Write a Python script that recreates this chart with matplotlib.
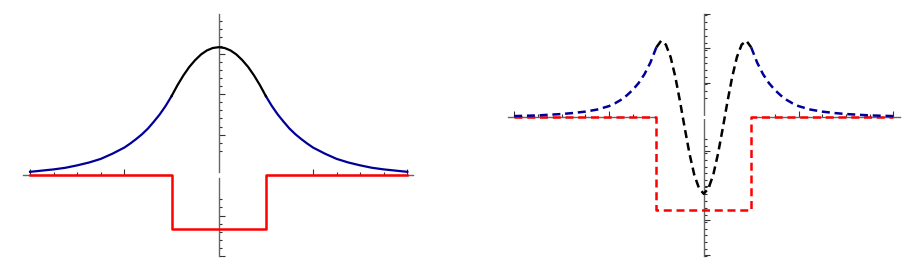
import numpy as np
import matplotlib
matplotlib.use("Agg")
import matplotlib.pyplot as plt
from matplotlib.ticker import FixedLocator

# ---------------- data ----------------
# Left panel: ground state in a finite square well
well_edge = 1.0
left_tail_x = [-4.0, -3.75, -3.5, -3.25, -3.0, -2.75, -2.5, -2.25, -2.0, -1.875, -1.75,
               -1.625, -1.5, -1.375, -1.25, -1.125, -1.0]
left_tail_y = [0.08, 0.11, 0.14, 0.18, 0.24, 0.31, 0.40, 0.53, 0.68, 0.78, 0.89,
               1.01, 1.15, 1.32, 1.50, 1.71, 1.95]
right_tail_x = [1.0, 1.125, 1.25, 1.375, 1.5, 1.625, 1.75, 1.875, 2.0, 2.25, 2.5,
                2.75, 3.0, 3.25, 3.5, 3.75, 4.0]
right_tail_y = [1.95, 1.71, 1.50, 1.32, 1.15, 1.01, 0.89, 0.78, 0.68, 0.53, 0.40,
                0.31, 0.24, 0.18, 0.14, 0.11, 0.08]
inside_x = [-1.0, -0.875, -0.75, -0.625, -0.5, -0.375, -0.25, -0.125, 0.0,
            0.125, 0.25, 0.375, 0.5, 0.625, 0.75, 0.875, 1.0]
inside_y = [1.95, 2.22, 2.46, 2.67, 2.84, 2.98, 3.08, 3.14, 3.16,
            3.14, 3.08, 2.98, 2.84, 2.67, 2.46, 2.22, 1.95]
pot_x = [-4.0, -1.0, -1.0, 1.0, 1.0, 4.0]
pot_left = [0.0, 0.0, -1.33, -1.33, 0.0, 0.0]

# Right panel: third (even) state
r_left_tail_x = [-4.0, -3.75, -3.5, -3.25, -3.0, -2.75, -2.5, -2.25, -2.0, -1.875, -1.75,
                 -1.625, -1.5, -1.375, -1.25, -1.125, -1.0]
r_left_tail_y = [0.03, 0.04, 0.05, 0.07, 0.09, 0.12, 0.16, 0.22, 0.32, 0.40, 0.50,
                 0.63, 0.79, 0.99, 1.25, 1.59, 2.03]
r_right_tail_x = [1.0, 1.125, 1.25, 1.375, 1.5, 1.625, 1.75, 1.875, 2.0, 2.25, 2.5,
                  2.75, 3.0, 3.25, 3.5, 3.75, 4.0]
r_right_tail_y = [2.03, 1.59, 1.25, 0.99, 0.79, 0.63, 0.50, 0.40, 0.32, 0.22, 0.16,
                  0.12, 0.09, 0.07, 0.05, 0.04, 0.03]
r_inside_x = [-1.0, -0.9, -0.8, -0.7, -0.6, -0.5, -0.4, -0.3, -0.2, -0.1, 0.0,
              0.1, 0.2, 0.3, 0.4, 0.5, 0.6, 0.7, 0.8, 0.9, 1.0]
r_inside_y = [2.03, 2.22, 2.11, 1.75, 1.17, 0.45, -0.33, -1.07, -1.68, -2.07, -2.23,
              -2.07, -1.68, -1.07, -0.33, 0.45, 1.17, 1.75, 2.11, 2.22, 2.03]
pot_right = [0.0, 0.0, -2.69, -2.69, 0.0, 0.0]

# ---------------- styling ----------------
BLUE = "#000099"
RED = "#ff0000"
AXC = "#666666"

fig = plt.figure(figsize=(9.22, 2.65), dpi=100)
axL = fig.add_axes([23 / 922, 9 / 265, 390 / 922, 242 / 265])
axR = fig.add_axes([508 / 922, 9 / 265, 392 / 922, 242 / 265])


def style(ax, xlim, ylim, xmaj, xmin, ymaj, ymin):
    ax.set_xlim(xlim)
    ax.set_ylim(ylim)
    ax.patch.set_alpha(0)
    for s in ["top", "right"]:
        ax.spines[s].set_visible(False)
    for s in ["left", "bottom"]:
        ax.spines[s].set_position(("data", 0))
        ax.spines[s].set_color(AXC)
        ax.spines[s].set_linewidth(1.0)
    ax.xaxis.set_major_locator(FixedLocator(xmaj))
    ax.xaxis.set_minor_locator(FixedLocator(xmin))
    ax.yaxis.set_major_locator(FixedLocator(ymaj))
    ax.yaxis.set_minor_locator(FixedLocator(ymin))
    ax.tick_params(which="both", direction="in", labelbottom=False,
                   labelleft=False, color="#333333", width=0.8)
    ax.tick_params(which="major", length=4)
    ax.tick_params(which="minor", length=2.5)


def yminors(lo, hi):
    vals = np.round(np.arange(lo, hi + 1e-9, 0.2), 2)
    return [v for v in vals if abs(v) >= 0.55 and abs(v - round(v)) > 1e-6]


style(axL, (-4.15, 4.12), (-2.0, 3.98),
      [-4, -2, 2, 4], [-3.5, -3, -2.5, 2.5, 3, 3.5],
      [-2, -1, 1, 2, 3], yminors(-2.0, 3.98))
style(axR, (-4.13, 4.14), (-4.04, 3.0),
      [-4, -2, 2, 4], [-3.5, -3, -2.5, -1.5, 1.5, 2.5, 3, 3.5],
      [-4, -3, -2, -1, 1, 2, 3], yminors(-4.04, 3.0))

# ---- left panel ----
axL.plot([-well_edge, well_edge], [0, 0], color="white", lw=3.4, zorder=3,
         solid_capstyle="butt")
axL.plot(pot_x, pot_left, color=RED, lw=1.8, zorder=3.5)
axL.plot(left_tail_x, left_tail_y, color=BLUE, lw=1.6, zorder=4)
axL.plot(right_tail_x, right_tail_y, color=BLUE, lw=1.6, zorder=4)
axL.plot(inside_x, inside_y, color="black", lw=1.6, zorder=4)

# ---- right panel ----
dash = (0, (3.2, 1.9))
axR.plot([-well_edge, well_edge], [0, 0], color="white", lw=2.2, zorder=3,
         solid_capstyle="butt")
axR.plot(pot_x, pot_right, color=RED, lw=1.8, ls=dash, zorder=3.5)
axR.plot(r_left_tail_x, r_left_tail_y, color=BLUE, lw=1.8, ls=dash, zorder=4)
axR.plot(r_right_tail_x, r_right_tail_y, color=BLUE, lw=1.8, ls=dash, zorder=4)
axR.plot(r_inside_x, r_inside_y, color="black", lw=1.8, ls=dash, zorder=4)

fig.savefig("out.png", dpi=100)
